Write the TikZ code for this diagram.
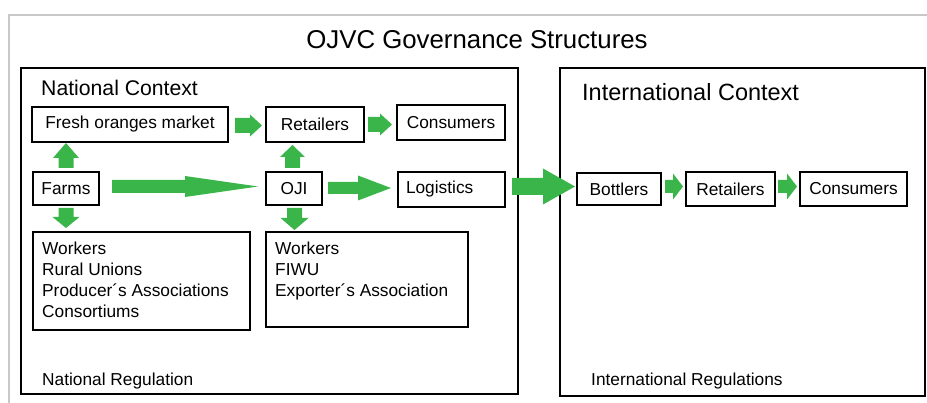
\documentclass[tikz,border=0pt]{standalone}
\usepackage{fontspec}
\setmainfont{Liberation Sans}
\usetikzlibrary{calc}
\definecolor{agreen}{RGB}{58,181,74}
\definecolor{framegray}{RGB}{200,200,200}
\tikzset{
  box/.style={draw=black, line width=2.4pt, inner sep=0pt, outer sep=0pt, font=\fontsize{17.3}{20}\selectfont},
  region/.style={draw=black, line width=2.6pt, inner sep=0pt, outer sep=0pt},
  lbl/.style={inner sep=0pt, font=\fontsize{17.3}{21}\selectfont, align=left},
  arr/.style={fill=agreen}
}
% right-pointing block arrow: start, tip, shaft half, head half, head length
\newcommand{\rarrow}[5]{\fill[arr] let \p1=(#1), \p2=(#2) in
  (\x1,\y1-#3) -- (\x2-#5,\y1-#3) -- (\x2-#5,\y1-#4) -- (\x2,\y1) -- (\x2-#5,\y1+#4) -- (\x2-#5,\y1+#3) -- (\x1,\y1+#3) -- cycle;}
% upward block arrow
\newcommand{\uarrow}[5]{\fill[arr] let \p1=(#1), \p2=(#2) in
  (\x1-#3,\y1) -- (\x1-#3,\y2-#5) -- (\x1-#4,\y2-#5) -- (\x1,\y2) -- (\x1+#4,\y2-#5) -- (\x1+#3,\y2-#5) -- (\x1+#3,\y1) -- cycle;}
% downward block arrow
\newcommand{\darrow}[5]{\fill[arr] let \p1=(#1), \p2=(#2) in
  (\x1-#3,\y1) -- (\x1-#3,\y2+#5) -- (\x1-#4,\y2+#5) -- (\x1,\y2) -- (\x1+#4,\y2+#5) -- (\x1+#3,\y2+#5) -- (\x1+#3,\y1) -- cycle;}
\begin{document}
\begin{tikzpicture}[x=1pt,y=-1pt]
\useasboundingbox (0,0) rectangle (927,403);
% light frame
\coordinate (fa) at (9,403);
\coordinate (fb) at (9,15);
\coordinate (fc) at (927,15);
\draw[framegray, line width=2pt] (fa) -- (fb) -- (fc);

\node[inner sep=0pt, font=\fontsize{25.8}{30}\selectfont] (title) at (477,40) {OJVC Governance Structures};

% regions
\node[region, minimum width=497pt, minimum height=326pt] (nat) at (269.5,231) {};
\node[region, minimum width=365pt, minimum height=328pt] (int) at (742.5,232) {};
\node[inner sep=0pt, anchor=west, font=\fontsize{21.2}{25}\selectfont] (natlbl) at (41,88) {National Context};
\node[inner sep=0pt, anchor=west, font=\fontsize{23.5}{28}\selectfont] (intlbl) at (582,92) {International Context};
\node[lbl, anchor=base west] (natreg) at (42,386) {National Regulation};
\node[lbl, anchor=base west] (intreg) at (591,386) {International Regulations};

% national boxes
\node[box, minimum width=196pt, minimum height=35pt] (fresh) at (130,124.5) {Fresh oranges market};
\node[box, minimum width=98pt, minimum height=35pt] (ret1) at (315,124.5) {Retailers};
\node[box, minimum width=108pt, minimum height=35pt] (con1) at (451,122.5) {Consumers};
\node[box, minimum width=66pt, minimum height=33pt] (farms) at (66,188.5) {Farms};
\node[box, minimum width=56pt, minimum height=33pt] (oji) at (294,188.5) {OJI};
\node[box, minimum width=107pt, minimum height=35pt, text width=91pt, align=left] (logi) at (451.5,189.5) {Logistics};
\node[box, minimum width=217pt, minimum height=98pt] (wk1) at (141.5,281) {};
\node[box, minimum width=202pt, minimum height=95pt] (wk2) at (367,279.5) {};
\node[lbl, anchor=north west] (wk1t) at (42,241.5) {Workers\\Rural Unions\\Producer´s Associations\\Consortiums};
\node[lbl, anchor=north west] (wk2t) at (275,241.5) {Workers\\FIWU\\Exporter´s Association};

% international boxes
\node[box, minimum width=84pt, minimum height=32pt] (bott) at (619,189) {Bottlers};
\node[box, minimum width=89pt, minimum height=34pt] (ret2) at (730.5,189) {Retailers};
\node[box, minimum width=107pt, minimum height=34pt] (con2) at (853.5,189) {Consumers};

% arrows
\rarrow{$(fresh.east)+(7,1)$}{$(ret1.west)+(-4,0)$}{7.5pt}{11pt}{12pt}
\rarrow{$(ret1.east)+(4,0)$}{$(con1.west)+(-5,0)$}{7.5pt}{11pt}{12pt}
\uarrow{$(farms.north)+(0,-4)$}{$(fresh.south)+(0,1)$}{7.5pt}{13pt}{15pt}
\darrow{$(farms.south)+(0,3)$}{$(wk1.north)+(0,-4)$}{7.5pt}{13.5pt}{11pt}
\rarrow{$(farms.east)+(13,-2)$}{$(oji.west)+(-8,0)$}{6.5pt}{10.5pt}{73pt}
\rarrow{$(oji.east)+(6,-0.5)$}{$(logi.west)+(-7,0)$}{6pt}{12.5pt}{33pt}
\uarrow{$(oji.north)+(-1.5,-4)$}{$(ret1.south)+(0,3)$}{7.5pt}{12.5pt}{12pt}
\darrow{$(oji.south)+(0.5,3)$}{$(wk2.north)+(0,-2)$}{7.5pt}{14pt}{12pt}
\rarrow{$(logi.east)+(7,-3)$}{$(bott.west)+(-2,0)$}{8.5pt}{18pt}{32pt}
\rarrow{$(bott.east)+(4,-2.5)$}{$(ret2.west)+(-3,0)$}{6.5pt}{13pt}{10pt}
\rarrow{$(ret2.east)+(3,-2.5)$}{$(con2.west)+(-3,0)$}{6.5pt}{13pt}{10pt}
\end{tikzpicture}
\end{document}
